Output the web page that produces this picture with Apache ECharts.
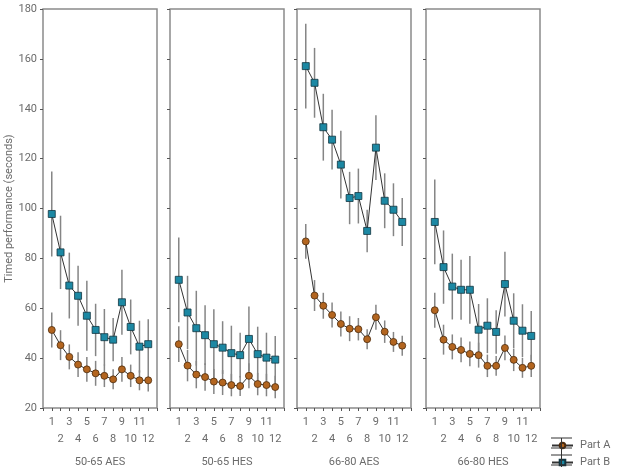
<!DOCTYPE html>
<html>
<head>
<meta charset="utf-8">
<script src="https://cdn.jsdelivr.net/npm/echarts@6/dist/echarts.min.js"></script>
<style>
  html, body { margin: 0; padding: 0; background: #fff; }
  #chart { width: 621px; height: 470px; }
</style>
</head>
<body>
<div id="chart"></div>
<script>
'use strict';

/*-----------------------------------------------
|   Data
-----------------------------------------------*/
const sessions = [1, 2, 3, 4, 5, 6, 7, 8, 9, 10, 11, 12];
const groups = ['50-65 AES', '50-65 HES', '66-80 AES', '66-80 HES'];
const yTicks = [20, 40, 60, 80, 100, 120, 140, 160, 180];

const partA_5065AES = [51.3, 45.2, 40.5, 37.4, 35.5, 33.9, 32.9, 31.5, 35.5, 32.9, 31.1, 31.1];
const errA_5065AES = [7, 6, 5, 5, 5, 5, 4.5, 4, 5, 4.5, 4, 4.5];
const partB_5065AES = [97.8, 82.4, 69.1, 65, 57, 51.3, 48.4, 47.4, 62.4, 52.5, 44.6, 45.6];
const errB_5065AES = [17, 14.7, 13.2, 12, 14, 10.5, 11.3, 8.7, 13, 11, 10.4, 10];

const partA_5065HES = [45.6, 37, 33.4, 32.4, 30.6, 30.2, 29.2, 28.8, 32.9, 29.6, 29.2, 28.4];
const errA_5065HES = [7.2, 6.3, 5.5, 5.5, 5, 5, 4.5, 4, 5, 4.5, 4.5, 4.5];
const partB_5065HES = [71.4, 58.3, 52, 49.2, 45.6, 44.2, 42, 41.2, 47.7, 41.6, 40.2, 39.4];
const errB_5065HES = [17, 14.7, 15, 12, 14, 10.6, 11, 9, 13, 11, 10, 9.5];

const partA_6680AES = [86.8, 65.1, 61, 57.3, 53.7, 51.8, 51.6, 47.6, 56.4, 50.6, 46.5, 45];
const errA_6680AES = [7, 6.2, 5.2, 5, 5, 5, 4.5, 4, 5, 4.5, 4, 4];
const partB_6680AES = [157.1, 150.4, 132.6, 127.6, 117.6, 104.2, 105, 91, 124.4, 103.1, 99.5, 94.6];
const errB_6680AES = [17, 14, 13.4, 12, 13.6, 10.5, 11, 8.5, 13, 11, 10.6, 9.6];

const partA_6680HES = [59.2, 47.4, 44.5, 43.3, 41.7, 41.2, 36.9, 36.9, 44.1, 39.3, 36.1, 36.9];
const errA_6680HES = [7, 6, 5, 5, 5, 5, 4.5, 4, 5, 4.5, 4, 4.5];
const partB_6680HES = [94.6, 76.5, 68.7, 67.4, 67.4, 51.4, 53, 50.5, 69.7, 55, 51, 48.9];
const errB_6680HES = [17, 14.7, 13.2, 12, 13.6, 10.3, 11, 8.7, 13, 11, 10.6, 10];

const panels = [
  { a: partA_5065AES, ea: errA_5065AES, b: partB_5065AES, eb: errB_5065AES },
  { a: partA_5065HES, ea: errA_5065HES, b: partB_5065HES, eb: errB_5065HES },
  { a: partA_6680AES, ea: errA_6680AES, b: partB_6680AES, eb: errB_6680AES },
  { a: partA_6680HES, ea: errA_6680HES, b: partB_6680HES, eb: errB_6680HES },
];

/*-----------------------------------------------
|   Styles
-----------------------------------------------*/
const FONT = 'Roboto';
const TEXT_COLOR = '#6b6b6b';
const Color = {
  A: '#b3651f',
  A_BORDER: '#4d2c0e',
  B: '#1c88a3',
  B_BORDER: '#123540',
  LINE: '#333',
  ERR: '#858585',
  FRAME: '#8a8a8a',
};
const panelLefts = [43, 170, 297, 426];
const panelWidth = 114;

const toPoints = (vals) => vals.map((v, i) => [sessions[i], v]);
const toErr = (vals, errs) => vals.map((v, i) => [sessions[i], v - errs[i], v + errs[i]]);

const errorBars = (params, api) => {
  const lo = api.coord([api.value(0), api.value(1)]);
  const hi = api.coord([api.value(0), api.value(2)]);
  return {
    type: 'line',
    shape: { x1: lo[0], y1: lo[1], x2: hi[0], y2: hi[1] },
    style: { stroke: Color.ERR, lineWidth: 1.5 },
  };
};

const grid = [];
const xAxis = [];
const yAxis = [];
const series = [];

panels.forEach((p, idx) => {
  grid.push({
    left: panelLefts[idx],
    top: 9,
    width: panelWidth,
    height: 399,
    show: true,
    borderColor: Color.FRAME,
    borderWidth: 1.5,
    containLabel: false,
    outerBoundsMode: 'none',
  });
  xAxis.push({
    type: 'value',
    gridIndex: idx,
    min: 0,
    max: 13,
    interval: 1,
    axisLine: { show: false },
    axisTick: { show: true, length: 3, lineStyle: { color: '#555' } },
    splitLine: { show: false },
    axisLabel: {
      fontFamily: FONT,
      fontSize: 11,
      color: TEXT_COLOR,
      margin: 6,
      lineHeight: 17,
      formatter: (v) => (v < 1 || v > 12 ? '' : v % 2 ? String(v) : '\n' + v),
    },
    name: groups[idx],
    nameLocation: 'middle',
    nameGap: 49,
    nameTextStyle: { fontFamily: FONT, fontSize: 11, color: TEXT_COLOR },
  });
  yAxis.push({
    type: 'value',
    gridIndex: idx,
    min: yTicks[0],
    max: yTicks[yTicks.length - 1],
    interval: 20,
    axisLine: { show: false },
    axisTick: { show: true, length: 3, lineStyle: { color: '#555' } },
    splitLine: { show: false },
    axisLabel: {
      show: idx === 0,
      fontFamily: FONT,
      fontSize: 11,
      color: TEXT_COLOR,
      margin: 6,
    },
    name: idx === 0 ? 'Timed performance (seconds)' : '',
    nameLocation: 'middle',
    nameGap: 27,
    nameTextStyle: { fontFamily: FONT, fontSize: 11, color: TEXT_COLOR },
  });

  series.push(
    {
      type: 'custom',
      name: 'errA' + idx,
      xAxisIndex: idx,
      yAxisIndex: idx,
      renderItem: errorBars,
      data: toErr(p.a, p.ea),
      z: 1,
      silent: true,
    },
    {
      type: 'custom',
      name: 'errB' + idx,
      xAxisIndex: idx,
      yAxisIndex: idx,
      renderItem: errorBars,
      data: toErr(p.b, p.eb),
      z: 1,
      silent: true,
    },
    {
      type: 'line',
      name: 'Part A',
      xAxisIndex: idx,
      yAxisIndex: idx,
      data: toPoints(p.a),
      symbol: 'circle',
      symbolSize: 7,
      showAllSymbol: true,
      lineStyle: { color: Color.LINE, width: 1 },
      itemStyle: { color: Color.A, borderColor: Color.A_BORDER, borderWidth: 0.8 },
      z: 3,
    },
    {
      type: 'line',
      name: 'Part B',
      xAxisIndex: idx,
      yAxisIndex: idx,
      data: toPoints(p.b),
      symbol: 'rect',
      symbolSize: 7,
      showAllSymbol: true,
      lineStyle: { color: Color.LINE, width: 1 },
      itemStyle: { color: Color.B, borderColor: Color.B_BORDER, borderWidth: 0.8 },
      z: 3,
    }
  );
});

// Legend decoration: error-bar caps around the legend markers
const legendDeco = [438, 448, 455, 465].map((y) => ({
  type: 'line',
  shape: { x1: 551, y1: y, x2: 572, y2: y },
  style: { stroke: '#333', lineWidth: 1 },
  z: 100,
}));
legendDeco.push({
  type: 'line',
  shape: { x1: 561.5, y1: 438, x2: 561.5, y2: 467 },
  style: { stroke: '#333', lineWidth: 1 },
  z: 100,
});

const chart = echarts.init(document.getElementById('chart'), null, { renderer: 'canvas' });
chart.setOption({
  animation: false,
  backgroundColor: '#fff',
  grid,
  xAxis,
  yAxis,
  series,
  legend: {
    orient: 'vertical',
    left: 551,
    top: 440,
    itemWidth: 21,
    itemHeight: 7,
    itemGap: 6,
    data: ['Part A', 'Part B'],
    textStyle: { fontFamily: FONT, fontSize: 11, color: TEXT_COLOR, padding: [0, 0, 0, 2] },
    padding: 0,
    selectedMode: false,
  },
  graphic: legendDeco,
});
</script>
</body>
</html>
